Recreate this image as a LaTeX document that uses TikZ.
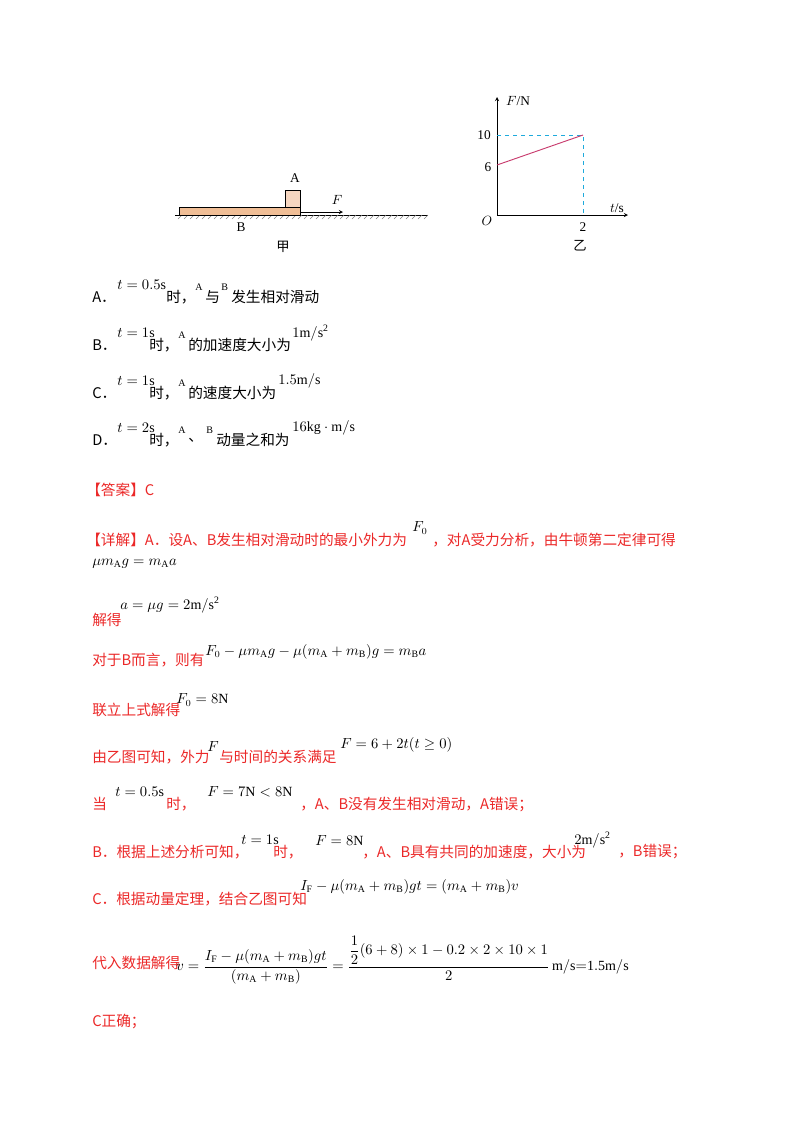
\documentclass[tikz,border=0pt]{standalone}
\usepackage{amsmath}
\usepackage{fontspec}
\setmainfont{Liberation Serif}
\newfontfamily\cjk{Noto Sans CJK SC}
\definecolor{rd}{RGB}{235,40,40}
\definecolor{orB}{RGB}{240,190,150}
\definecolor{orA}{RGB}{246,214,192}
\definecolor{cy}{RGB}{30,170,220}
\definecolor{mg}{RGB}{200,60,110}
\begin{document}
\begin{tikzpicture}[x=0.75pt,y=-0.75pt,
  t/.style={anchor=west,inner sep=0,font=\cjk\fontsize{11}{13}\selectfont},
  r/.style={t,text=rd},
  m/.style={anchor=west,inner sep=0,font=\fontsize{10.5}{12}\selectfont},
  lb/.style={inner sep=0,font=\fontsize{10}{12}\selectfont}]
\useasboundingbox (0,0) rectangle (800,1132);
% figure jia
\draw (175,215) -- (428,215);
\foreach \x in {178,184,...,426} \draw[gray,thin] (\x,219) -- (\x+4,215);
\draw[fill=orB] (179,207) rectangle (300,215);
\draw[fill=orA] (285,190) rectangle (300,207);
\coordinate (f0) at (300,212); \coordinate (f1) at (343,212);
\draw[-stealth] (f0) -- (f1);
\node[lb] (FA) at (337,200) {$F$};
\node[lb] (lA) at (295,178) {A};
\node[lb] (lB) at (241,227) {B};
\node[lb,font=\cjk\fontsize{10}{12}\selectfont] (jia) at (283,247) {甲};
% graph
\coordinate (O) at (497,215);
\coordinate (yt) at (497,97);
\coordinate (xt) at (628,215);
\draw[-stealth] (O) -- (yt);
\draw[-stealth] (O) -- (xt);
\coordinate (p6) at (497,165); \coordinate (p10) at (583,135);
\coordinate (y10) at (497,135); \coordinate (x2) at (583,215);
\draw[cy,dashed,line width=0.7pt] (y10) -- (p10) -- (x2);
\draw[mg,line width=0.7pt] (p6) -- (p10);
\node[lb] (FN) at (518,101) {$F$/N};
\node[lb] (ts) at (617,208) {$t$/s};
\node[lb] (lO) at (487,221) {$O$};
\node[lb] (l2) at (583,227) {2};
\node[lb] (l10) at (484,135) {10};
\node[lb] (l6) at (488,167) {6};
\node[lb,font=\cjk\fontsize{10}{12}\selectfont] (yi) at (580,246) {乙};
% options
\node[t] (a1) at (92,297) {A．}; \node[m] (a2) at (117,285) {$t=0.5\mathrm{s}$};
\node[t] (a3) at (166,297) {时，}; \node[m,font=\fontsize{7.5}{8}\selectfont] (a4) at (195,287) {A};
\node[t] (a5) at (205,297) {与}; \node[m,font=\fontsize{7.5}{8}\selectfont] (a6) at (221,287) {B};
\node[t] (a7) at (231,297) {发生相对滑动};
\node[t] (b1) at (92,345) {B．}; \node[m] (b2) at (117,333) {$t=1\mathrm{s}$};
\node[t] (b3) at (149,345) {时，}; \node[m,font=\fontsize{7.5}{8}\selectfont] (b4) at (178,335) {A};
\node[t] (b5) at (188,345) {的加速度大小为}; \node[m] (b6) at (292,333) {$1\mathrm{m/s^2}$};
\node[t] (c1) at (92,393) {C．}; \node[m] (c2) at (117,381) {$t=1\mathrm{s}$};
\node[t] (c3) at (149,393) {时，}; \node[m,font=\fontsize{7.5}{8}\selectfont] (c4) at (178,383) {A};
\node[t] (c5) at (188,393) {的速度大小为}; \node[m] (c6) at (278,381) {$1.5\mathrm{m/s}$};
\node[t] (d1) at (92,440) {D．}; \node[m] (d2) at (117,428) {$t=2\mathrm{s}$};
\node[t] (d3) at (149,440) {时，}; \node[m,font=\fontsize{7.5}{8}\selectfont] (d4) at (178,430) {A};
\node[t] (d5) at (188,440) {、}; \node[m,font=\fontsize{7.5}{8}\selectfont] (d6) at (206,430) {B};
\node[t] (d7) at (216,440) {动量之和为}; \node[m] (d8) at (292,428) {$16\mathrm{kg\cdot m/s}$};
% answer
\node[r] (ans) at (86,490) {【答案】C};
\node[r] (x1) at (86,540) {【详解】A．设A、B发生相对滑动时的最小外力为};
\node[m] (x2) at (412,528) {$F_0$};
\node[r] (x3) at (432,540) {，对A受力分析，由牛顿第二定律可得};
\node[m] (e1) at (92,564) {$\mu m_{\mathrm A} g=m_{\mathrm A} a$};
\node[r] (e2) at (92,620) {解得}; \node[m] (e3) at (120,605) {$a=\mu g=2\mathrm{m/s^2}$};
\node[r] (e4) at (92,660) {对于B而言，则有};
\node[m] (e5) at (205,652) {$F_0-\mu m_{\mathrm A}g-\mu(m_{\mathrm A}+m_{\mathrm B})g=m_{\mathrm B}a$};
\node[r] (e6) at (92,710) {联立上式解得}; \node[m] (e7) at (176,700) {$F_0=8\mathrm{N}$};
\node[r] (e8) at (92,757) {由乙图可知，外力}; \node[m] (e9) at (207,747) {$F$};
\node[r] (e10) at (219,757) {与时间的关系满足}; \node[m] (e11) at (340,745) {$F=6+2t(t\ge0)$};
\node[r] (g1) at (92,804) {当}; \node[m] (g2) at (115,792) {$t=0.5\mathrm{s}$};
\node[r] (g3) at (166,804) {时，}; \node[m] (g4) at (207,792) {$F=7\mathrm N<8\mathrm N$};
\node[r] (g5) at (300,804) {，A、B没有发生相对滑动，A错误；};
\node[r] (h1) at (92,852) {B．根据上述分析可知，}; \node[m] (h2) at (241,840) {$t=1\mathrm{s}$};
\node[r] (h3) at (273,852) {时，}; \node[m] (h4) at (315,840) {$F=8\mathrm{N}$};
\node[r] (h5) at (362,852) {，A、B具有共同的加速度，大小为};
\node[m] (h6) at (574,840) {$2\mathrm{m/s^2}$}; \node[r] (h7) at (618,852) {，B错误；};
\node[r] (k1) at (92,899) {C．根据动量定理，结合乙图可知};
\node[m] (k2) at (300,887) {$I_{\mathrm F}-\mu(m_{\mathrm A}+m_{\mathrm B})gt=(m_{\mathrm A}+m_{\mathrm B})v$};
\node[r] (k3) at (92,963) {代入数据解得};
\node[m] (k4) at (176,960) {$v=\dfrac{I_{\mathrm F}-\mu(m_{\mathrm A}+m_{\mathrm B})gt}{(m_{\mathrm A}+m_{\mathrm B})}=\dfrac{\dfrac12(6+8)\times1-0.2\times2\times10\times1}{2}\,\mathrm{m/s{=}1.5m/s}$};
\node[r] (k5) at (92,1021) {C正确；};
\end{tikzpicture}
\end{document}
